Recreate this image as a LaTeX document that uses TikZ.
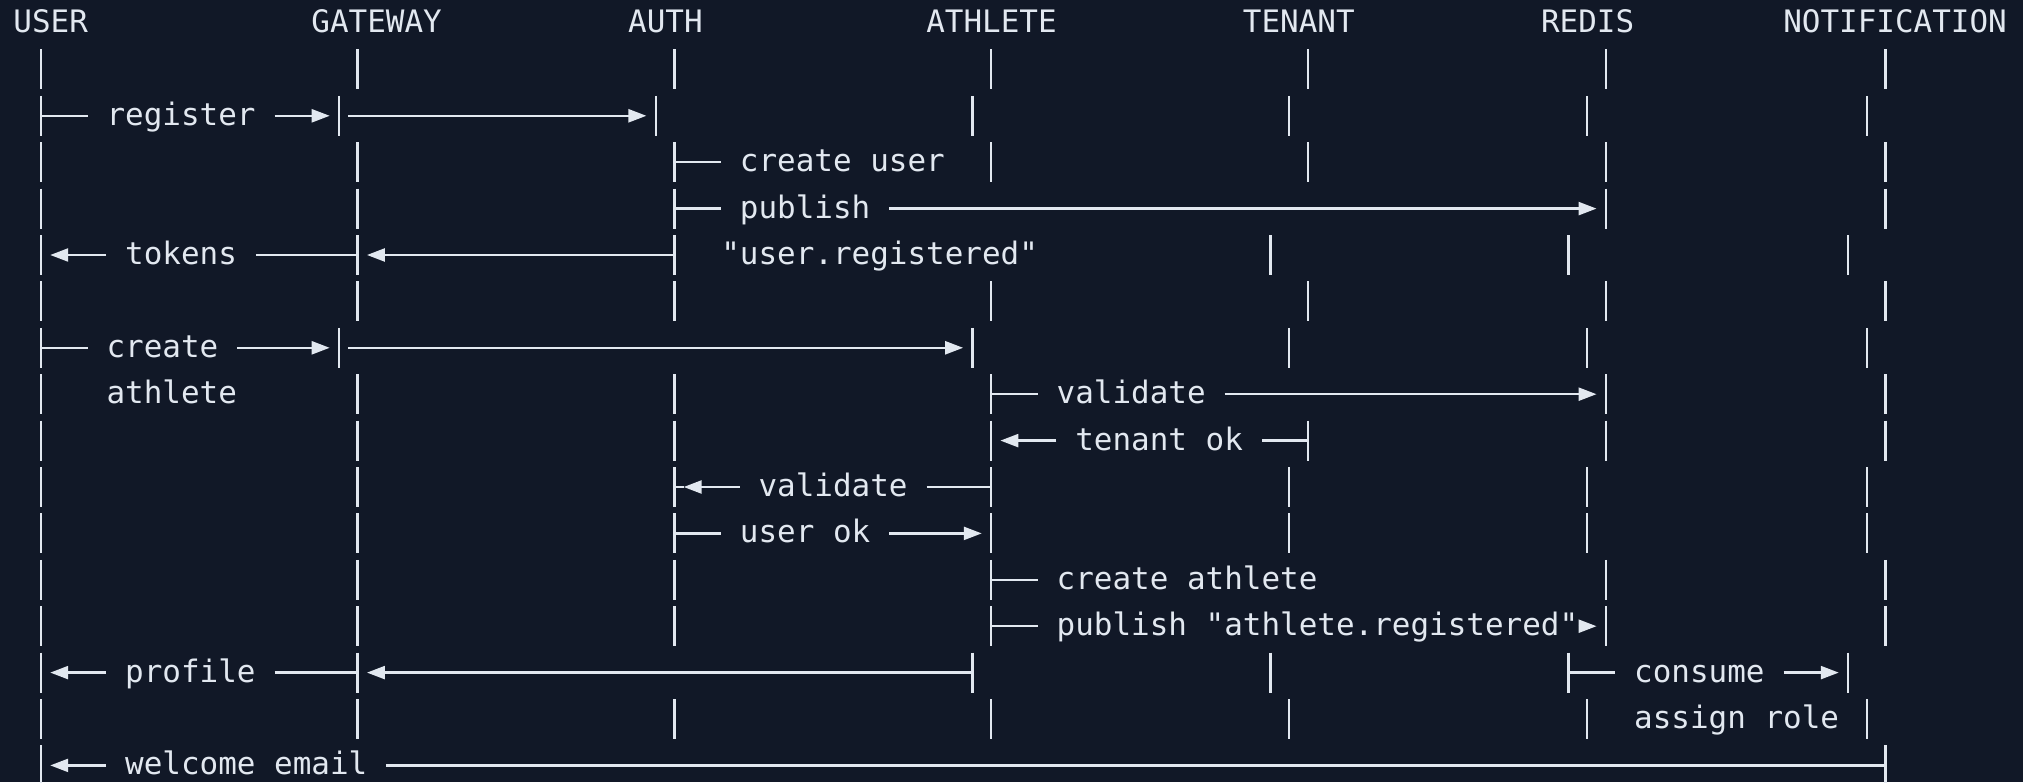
\documentclass[tikz,border=0pt]{standalone}
\usepackage{fontspec}
\setmonofont{DejaVu Sans Mono}
\usetikzlibrary{arrows.meta, calc}
\definecolor{sqbg}{HTML}{111827}
\definecolor{sqfg}{HTML}{E2E8F0}
\newcommand\seqfont{\ttfamily\fontsize{15.47pt}{18pt}\selectfont}
\tikzset{
  lifebar/.style={draw=sqfg, line width=1.2pt},
  wire/.style={draw=sqfg, line width=1.2pt},
  msg/.style={-{Triangle[length=9pt, width=6.5pt]}, draw=sqfg, line width=1.2pt},
  hdr/.style={text=sqfg, font=\seqfont, inner sep=0pt, anchor=west,
              text height=14.23pt, text depth=4.64pt},
  % one blank cell either side, where the wire stops
  lbl/.style={hdr, inner xsep=9.315pt},
}

\begin{document}
\begin{tikzpicture}[x=9.315pt, y=-23.2pt]
  \useasboundingbox (-1.197,-.4957) rectangle (107.39,16.358);
  \fill[sqbg] (-1.197,-.4957) rectangle (107.39,16.358);

  % lifelines, one cell per row
  \foreach \r/\bars in {
      1/{u/1,g/18,a/35,t/52,n/69,r/85,o/100},
      2/{u/1,g/17,a/34,t/51,n/68,r/84,o/99},
      3/{u/1,g/18,a/35,t/52,n/69,r/85,o/100},
      4/{u/1,g/18,a/35,r/85,o/100},
      5/{u/1,g/18,a/35,n/67,r/83,o/98},
      6/{u/1,g/18,a/35,t/52,n/69,r/85,o/100},
      7/{u/1,g/17,t/51,n/68,r/84,o/99},
      8/{u/1,g/18,a/35,t/52,r/85,o/100},
      9/{u/1,g/18,a/35,t/52,n/69,r/85,o/100},
      10/{u/1,g/18,a/35,t/52,n/68,r/84,o/99},
      11/{u/1,g/18,a/35,t/52,n/68,r/84,o/99},
      12/{u/1,g/18,a/35,t/52,r/85,o/100},
      13/{u/1,g/18,a/35,t/52,r/85,o/100},
      14/{u/1,g/18,t/51,n/67,r/83,o/98},
      15/{u/1,g/18,a/35,t/52,n/68,r/84,o/99},
      16/{u/1,o/100}}{
    \foreach \n/\c in \bars {
      \coordinate (\n-\r) at (\c,\r);
      \draw[lifebar] (\c,\r-.43) -- (\c,\r+.43);
    }
  }

  % participants
  \node[hdr] (user)    at (-.5,0)  {USER};
  \node[hdr] (gateway) at (15.5,0) {GATEWAY};
  \node[hdr] (auth)    at (32.5,0) {AUTH};
  \node[hdr] (athlete) at (48.5,0) {ATHLETE};
  \node[hdr] (tenant)  at (65.5,0) {TENANT};
  \node[hdr] (redis)   at (81.5,0) {REDIS};
  \node[hdr] (notify)  at (94.5,0) {NOTIFICATION};

  % sign-up
  \node[lbl] (register) at (3.5,2) {register};
  \draw[wire] (u-2) -- (register.west);
  \draw[msg] (register.east) -- ($(g-2)-(.5,0)$);
  \draw[msg] ($(g-2)+(.5,0)$) -- ($(a-2)-(.5,0)$);

  \node[lbl] (mkuser) at (37.5,3) {create user};
  \draw[wire] (a-3) -- (mkuser.west);

  \node[lbl] (pubuser) at (37.5,4) {publish};
  \draw[wire] (a-4) -- (pubuser.west);
  \draw[msg] (pubuser.east) -- ($(r-4)-(.5,0)$);

  \node[lbl] (tokens) at (4.5,5) {tokens};
  \draw[msg] (tokens.west) -- ($(u-5)+(.5,0)$);
  \draw[wire] (tokens.east) -- (g-5);
  \draw[msg] (a-5) -- ($(g-5)+(.5,0)$);
  \node[hdr] (evuser) at (37.5,5) {"user.registered"};

  % athlete profile
  \node[lbl] (create) at (3.5,7) {create};
  \draw[wire] (u-7) -- (create.west);
  \draw[msg] (create.east) -- ($(g-7)-(.5,0)$);
  \draw[msg] ($(g-7)+(.5,0)$) -- ($(t-7)-(.5,0)$);
  \node[hdr] (create2) at (4.5,8) {athlete};

  \node[lbl] (valtenant) at (54.5,8) {validate};
  \draw[wire] (t-8) -- (valtenant.west);
  \draw[msg] (valtenant.east) -- ($(r-8)-(.5,0)$);

  \node[lbl] (tenantok) at (55.5,9) {tenant ok};
  \draw[msg] (tenantok.west) -- ($(t-9)+(.5,0)$);
  \draw[wire] (tenantok.east) -- (n-9);

  \node[lbl] (valuser) at (38.5,10) {validate};
  \draw[msg] (valuser.west) -- ($(a-10)+(.5,0)$);
  \draw[wire] (a-10) -- ++(.5,0);
  \draw[wire] (valuser.east) -- (t-10);

  \node[lbl] (userok) at (37.5,11) {user ok};
  \draw[wire] (a-11) -- (userok.west);
  \draw[msg] (userok.east) -- ($(t-11)-(.5,0)$);

  \node[lbl] (mkathl) at (54.5,12) {create athlete};
  \draw[wire] (t-12) -- (mkathl.west);

  \node[lbl] (pubathl) at (54.5,13) {publish "athlete.registered"};
  \draw[wire] (t-13) -- (pubathl.west);
  \draw[msg] ($(pubathl.east)-(1,0)$) -- ($(r-13)-(.5,0)$);

  \node[lbl] (profile) at (4.5,14) {profile};
  \draw[msg] (profile.west) -- ($(u-14)+(.5,0)$);
  \draw[wire] (profile.east) -- (g-14);
  \draw[msg] (t-14) -- ($(g-14)+(.5,0)$);

  % notification side
  \node[lbl] (consume) at (85.5,14) {consume};
  \draw[wire] (r-14) -- (consume.west);
  \draw[msg] (consume.east) -- ($(o-14)-(.5,0)$);
  \node[hdr] (role) at (86.5,15) {assign role};

  \node[lbl] (welcome) at (4.5,16) {welcome email};
  \draw[msg] (welcome.west) -- ($(u-16)+(.5,0)$);
  \draw[wire] (welcome.east) -- (o-16);
\end{tikzpicture}
\end{document}
